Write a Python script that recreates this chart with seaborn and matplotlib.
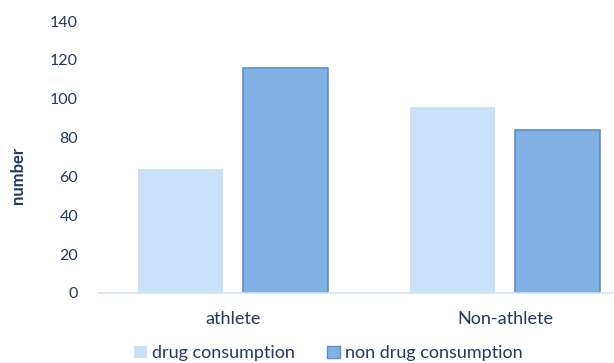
import numpy as np
import pandas as pd
import seaborn as sns
import matplotlib.pyplot as plt
from matplotlib.patches import Patch

# values
groups = ['athlete', 'Non-athlete']
series = ['drug consumption', 'non drug consumption']
drug = [64, 96]
non_drug = [116, 84]

df = pd.DataFrame({
    'group': groups * 2,
    'series': [series[0]] * 2 + [series[1]] * 2,
    'number': drug + non_drug,
})

sns.set_style('white')
plt.rcParams['font.family'] = ['Lato', 'DejaVu Sans']
text_col = '#203864'
light = '#C9E2F9'
dark = '#82B1E4'

fig = plt.figure(figsize=(6.14, 3.63), dpi=100)
ax = fig.add_axes([0.16, 0.193, 0.84, 0.749])
sns.barplot(data=df, x='group', y='number', hue='series', saturation=1,
            palette=[light, dark], width=0.77, gap=0.19, ax=ax, legend=False)

# edge on the darker series only
for bar in ax.containers[1]:
    bar.set_edgecolor('#5B8FD6')
    bar.set_linewidth(1.2)
for bar in ax.containers[0]:
    bar.set_linewidth(0)

ax.set_ylim(0, 140)
ax.set_xlim(-0.496, 1.4)
ax.set_yticks(range(0, 141, 20))
for s in ['top', 'right', 'left']:
    ax.spines[s].set_visible(False)
ax.spines['bottom'].set_color('#D6E3F2')
ax.spines['bottom'].set_linewidth(1.2)
ax.tick_params(axis='both', length=0, colors=text_col)
ax.tick_params(axis='y', pad=14.5, labelsize=11.5)
ax.tick_params(axis='x', pad=13, labelsize=13)
ax.set_xlabel('')
ax.set_ylabel('')
fig.text(18 / 614, 0.5165, 'number', rotation=90, ha='center', va='center',
         fontsize=12, fontweight='bold', color=text_col)

handles = [Patch(facecolor=light, edgecolor='none'),
           Patch(facecolor=dark, edgecolor='#5B8FD6')]
fig.legend(handles, series, loc='lower center', bbox_to_anchor=(0.535, -0.04),
           ncol=2, frameon=False, fontsize=13, labelcolor=text_col,
           handlelength=0.7, handleheight=0.7, handletextpad=0.3, columnspacing=1.8)

fig.savefig('out.png', dpi=100)
